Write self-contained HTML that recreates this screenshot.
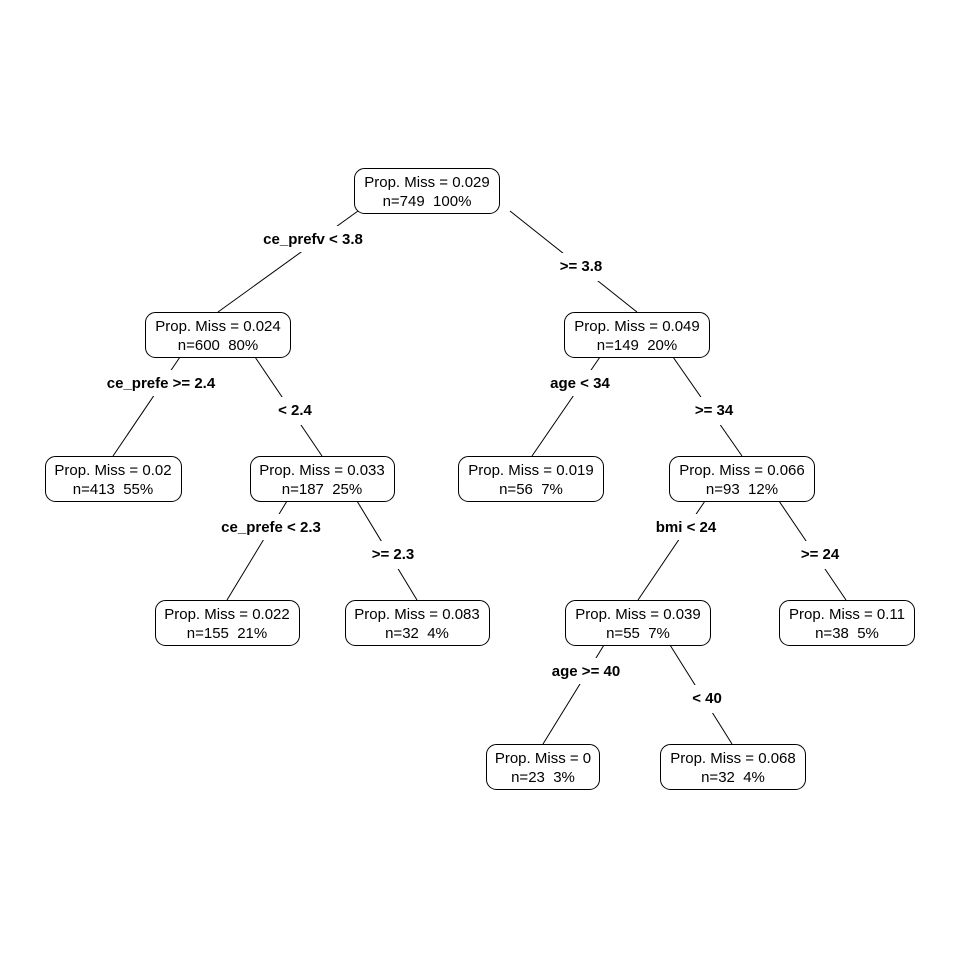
<!DOCTYPE html>
<html><head><meta charset="utf-8"><style>
html,body{margin:0;padding:0;background:#fff;}
svg{display:block;}
.n{fill:#fff;stroke:#000;stroke-width:1;}
.t{font-family:"Liberation Sans",sans-serif;font-size:15px;text-anchor:middle;fill:#000;white-space:pre;}
.b{font-family:"Liberation Sans",sans-serif;font-size:15px;font-weight:bold;text-anchor:middle;fill:#000;}
.lb{fill:#fff;}
line{stroke:#000;stroke-width:1;}
</style></head><body>
<svg width="960" height="960" viewBox="0 0 960 960" xmlns="http://www.w3.org/2000/svg" xml:space="preserve">
<g>
<line x1="358" y1="211" x2="218" y2="312"/>
<line x1="510" y1="211" x2="637" y2="312"/>
<line x1="180" y1="357" x2="113" y2="456"/>
<line x1="255" y1="357" x2="322" y2="456"/>
<line x1="600" y1="357" x2="532" y2="456"/>
<line x1="673" y1="357" x2="742" y2="456"/>
<line x1="287" y1="501" x2="227" y2="600"/>
<line x1="357" y1="501" x2="417" y2="600"/>
<line x1="705" y1="501" x2="638" y2="600"/>
<line x1="779" y1="501" x2="846" y2="600"/>
<line x1="604" y1="645" x2="543" y2="744"/>
<line x1="670" y1="645" x2="732" y2="744"/>
</g>
<g>
<rect class="lb" x="258" y="226" width="112" height="26"/><text class="b" x="313" y="244">ce_prefv &lt; 3.8</text>
<rect class="lb" x="553" y="253" width="56" height="28"/><text class="b" x="581" y="271">&gt;= 3.8</text>
<rect class="lb" x="100" y="370" width="122" height="26"/><text class="b" x="161" y="388">ce_prefe &gt;= 2.4</text>
<rect class="lb" x="272" y="397" width="46" height="28"/><text class="b" x="295" y="415">&lt; 2.4</text>
<rect class="lb" x="544" y="370" width="72" height="26"/><text class="b" x="580" y="388">age &lt; 34</text>
<rect class="lb" x="690" y="397" width="48" height="28"/><text class="b" x="714" y="415">&gt;= 34</text>
<rect class="lb" x="214" y="514" width="114" height="26"/><text class="b" x="271" y="532">ce_prefe &lt; 2.3</text>
<rect class="lb" x="366" y="541" width="54" height="28"/><text class="b" x="393" y="559">&gt;= 2.3</text>
<rect class="lb" x="652" y="514" width="68" height="26"/><text class="b" x="686" y="532">bmi &lt; 24</text>
<rect class="lb" x="796" y="541" width="48" height="28"/><text class="b" x="820" y="559">&gt;= 24</text>
<rect class="lb" x="546" y="658" width="80" height="26"/><text class="b" x="586" y="676">age &gt;= 40</text>
<rect class="lb" x="687" y="685" width="40" height="28"/><text class="b" x="707" y="703">&lt; 40</text>
</g>
<g>
<rect class="n" x="354.5" y="168.5" width="145" height="45" rx="10"/>
<text class="t" x="427" y="187">Prop. Miss = 0.029</text><text class="t" x="427" y="206">n=749  100%</text>
<rect class="n" x="145.5" y="312.5" width="145" height="45" rx="10"/>
<text class="t" x="218" y="331">Prop. Miss = 0.024</text><text class="t" x="218" y="350">n=600  80%</text>
<rect class="n" x="564.5" y="312.5" width="145" height="45" rx="10"/>
<text class="t" x="637" y="331">Prop. Miss = 0.049</text><text class="t" x="637" y="350">n=149  20%</text>
<rect class="n" x="45.5" y="456.5" width="136" height="45" rx="10"/>
<text class="t" x="113" y="475">Prop. Miss = 0.02</text><text class="t" x="113" y="494">n=413  55%</text>
<rect class="n" x="250.5" y="456.5" width="144" height="45" rx="10"/>
<text class="t" x="322" y="475">Prop. Miss = 0.033</text><text class="t" x="322" y="494">n=187  25%</text>
<rect class="n" x="458.5" y="456.5" width="145" height="45" rx="10"/>
<text class="t" x="531" y="475">Prop. Miss = 0.019</text><text class="t" x="531" y="494">n=56  7%</text>
<rect class="n" x="669.5" y="456.5" width="145" height="45" rx="10"/>
<text class="t" x="742" y="475">Prop. Miss = 0.066</text><text class="t" x="742" y="494">n=93  12%</text>
<rect class="n" x="155.5" y="600.5" width="144" height="45" rx="10"/>
<text class="t" x="227" y="619">Prop. Miss = 0.022</text><text class="t" x="227" y="638">n=155  21%</text>
<rect class="n" x="345.5" y="600.5" width="144" height="45" rx="10"/>
<text class="t" x="417" y="619">Prop. Miss = 0.083</text><text class="t" x="417" y="638">n=32  4%</text>
<rect class="n" x="565.5" y="600.5" width="145" height="45" rx="10"/>
<text class="t" x="638" y="619">Prop. Miss = 0.039</text><text class="t" x="638" y="638">n=55  7%</text>
<rect class="n" x="779.5" y="600.5" width="135" height="45" rx="10"/>
<text class="t" x="847" y="619">Prop. Miss = 0.11</text><text class="t" x="847" y="638">n=38  5%</text>
<rect class="n" x="486.5" y="744.5" width="113" height="45" rx="10"/>
<text class="t" x="543" y="763">Prop. Miss = 0</text><text class="t" x="543" y="782">n=23  3%</text>
<rect class="n" x="660.5" y="744.5" width="145" height="45" rx="10"/>
<text class="t" x="733" y="763">Prop. Miss = 0.068</text><text class="t" x="733" y="782">n=32  4%</text>
</g>
</svg>
</body></html>
